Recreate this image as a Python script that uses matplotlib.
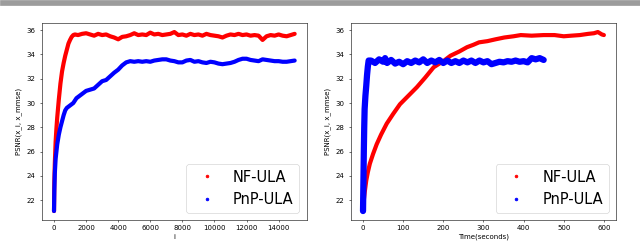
import matplotlib
matplotlib.use("Agg")
import matplotlib.pyplot as plt
from matplotlib.lines import Line2D
from matplotlib.patches import Rectangle

# left panel: PSNR vs iteration
nf_iter = [0, 20, 50, 100, 150, 200, 300, 400, 500, 600, 700, 800, 900, 1000, 1100, 1200, 1300,
           1500, 1750, 2000, 2250, 2500, 2750, 3000, 3250, 3500, 3750, 4000, 4250, 4500, 4750,
           5000, 5250, 5500, 5750, 6000, 6250, 6500, 6750, 7000, 7250, 7500, 7750, 8000, 8250,
           8500, 8750, 9000, 9250, 9500, 9750, 10000, 10250, 10500, 10750, 11000, 11250, 11500,
           11750, 12000, 12250, 12500, 12750, 13000, 13250, 13500, 13750, 14000, 14250, 14500,
           14750, 15000]
nf_psnr = [21.1, 23.5, 25.0, 26.8, 27.9, 28.8, 30.3, 31.6, 32.6, 33.3, 33.9, 34.4, 34.9, 35.2, 35.45, 35.6, 35.65,
           35.6, 35.7, 35.75, 35.65, 35.55, 35.7, 35.6, 35.65, 35.5, 35.4, 35.25, 35.45, 35.5, 35.6,
           35.75, 35.6, 35.65, 35.6, 35.8, 35.65, 35.7, 35.6, 35.65, 35.7, 35.85, 35.6, 35.65, 35.55,
           35.7, 35.6, 35.65, 35.55, 35.7, 35.6, 35.55, 35.5, 35.4, 35.55, 35.65, 35.6, 35.7,
           35.6, 35.65, 35.55, 35.6, 35.55, 35.2, 35.5, 35.6, 35.55, 35.65, 35.55, 35.5,
           35.6, 35.7]

pnp_iter = [0, 20, 50, 100, 150, 200, 300, 400, 500, 600, 700, 800, 1000, 1200, 1400, 1600, 1800,
            2000, 2250, 2500, 2750, 3000, 3250, 3500, 3750, 4000, 4250, 4500, 4750, 5000, 5250,
            5500, 5750, 6000, 6250, 6500, 6750, 7000, 7250, 7500, 7750, 8000, 8250, 8500, 8750,
            9000, 9250, 9500, 9750, 10000, 10250, 10500, 10750, 11000, 11250, 11500, 11750,
            12000, 12250, 12500, 12750, 13000, 13250, 13500, 13750, 14000, 14250, 14500, 14750, 15000]
pnp_psnr = [21.1, 22.8, 24.2, 25.4, 26.0, 26.6, 27.4, 28.0, 28.5, 29.0, 29.4, 29.6, 29.8, 30.0, 30.4, 30.6, 30.8,
            31.0, 31.1, 31.2, 31.5, 31.8, 31.9, 32.2, 32.5, 32.75, 33.1, 33.35, 33.45, 33.4, 33.45,
            33.4, 33.45, 33.4, 33.5, 33.55, 33.6, 33.6, 33.5, 33.45, 33.35, 33.35, 33.5, 33.55, 33.4,
            33.45, 33.35, 33.3, 33.4, 33.35, 33.25, 33.2, 33.25, 33.3, 33.4, 33.55, 33.65,
            33.65, 33.55, 33.5, 33.45, 33.6, 33.55, 33.5, 33.45, 33.45, 33.4, 33.4, 33.45, 33.5]

# right panel: PSNR vs wall-clock time
nf_time = [0, 2, 4, 8, 12, 17, 25, 34, 45, 59, 75, 92, 110, 134, 155, 176, 200, 218, 240, 259,
           275, 289, 310, 330, 352, 375, 393, 420, 450, 477, 500, 519, 540, 561, 575, 585, 595, 600]
nf_tpsnr = [21.1, 22.0, 22.6, 23.6, 24.3, 25.0, 25.8, 26.6, 27.4, 28.3, 29.1, 29.9, 30.5, 31.3, 32.1,
            32.95, 33.45, 33.9, 34.25, 34.6, 34.8, 35.0, 35.1, 35.25, 35.4, 35.5, 35.6, 35.55, 35.6,
            35.6, 35.5, 35.55, 35.6, 35.7, 35.75, 35.85, 35.65, 35.6]

pnp_time = [0, 1, 2, 3, 4, 6, 8, 10, 12, 14, 20, 30, 40, 50, 55, 60, 70, 80, 90, 100, 110, 120,
            130, 140, 150, 160, 170, 180, 190, 200, 210, 220, 230, 240, 250, 260, 270, 280, 290,
            300, 310, 320, 330, 340, 350, 360, 370, 380, 390, 400, 410, 420, 430, 440, 450]
pnp_tpsnr = [21.1, 23.5, 26.0, 28.0, 29.5, 30.6, 31.4, 32.3, 33.0, 33.5, 33.5, 33.3, 33.6, 33.4,
             33.7, 33.3, 33.55, 33.25, 33.4, 33.2, 33.45, 33.3, 33.5, 33.35, 33.6, 33.3, 33.5,
             33.35, 33.55, 33.3, 33.5, 33.3, 33.45, 33.3, 33.5, 33.35, 33.5, 33.3, 33.5, 33.35,
             33.45, 33.2, 33.3, 33.4, 33.35, 33.45, 33.4, 33.5, 33.4, 33.45, 33.35, 33.7, 33.6,
             33.7, 33.55]

labels = ["NF-ULA", "PnP-ULA"]

fig = plt.figure(figsize=(12.8, 4.88), dpi=50)
ax1 = fig.add_axes([0.0656, 0.0984, 0.4136, 0.807])
ax2 = fig.add_axes([0.5484, 0.0984, 0.414, 0.807])

# grey strip along the top of the picture
fig.add_artist(Rectangle((0, 1 - 4.5 / 244), 1, 4.5 / 244, transform=fig.transFigure,
                         color="#9c9c9c", zorder=0))

style = dict(solid_capstyle="round", solid_joinstyle="round")
ax1.plot(nf_iter, nf_psnr, color="red", lw=6, **style)
ax1.plot(pnp_iter, pnp_psnr, color="blue", lw=6, **style)
ax1.set_xlabel("i")

ax2.plot(nf_time, nf_tpsnr, color="red", lw=6, **style)
ax2.plot(pnp_time, pnp_tpsnr, color="blue", lw=9, **style)
ax2.set_xlabel("Time(seconds)")

handles = [Line2D([], [], color="red", marker=".", ms=8, ls="none"),
           Line2D([], [], color="blue", marker=".", ms=8, ls="none")]
for ax in (ax1, ax2):
    ax.set_ylabel("PSNR(x_i, x_mmse)", labelpad=7)
    ax.tick_params(axis="y", pad=6)
    ax.legend(handles, labels, loc="lower right", fontsize=21)

fig.savefig("out.png", dpi=50)
